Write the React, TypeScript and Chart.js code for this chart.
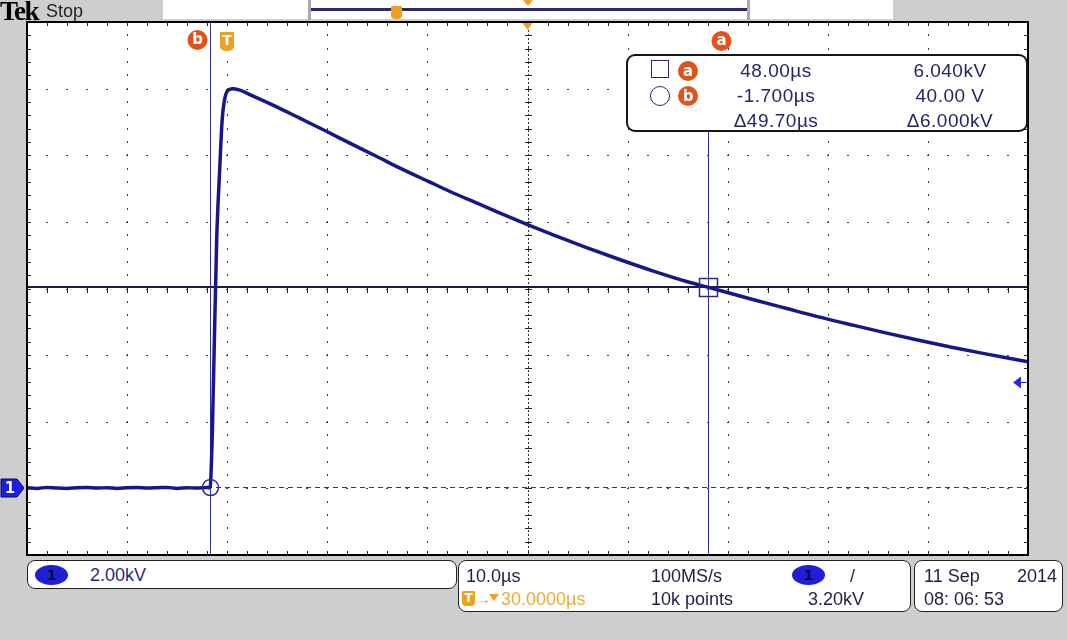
import React, { useEffect, useRef } from 'react';
import { Chart, registerables } from 'chart.js';

Chart.register(...registerables);

// ---- Data ----
const timeUs: number[] = [
  -20, -19, -18, -17, -16, -15, -14, -13, -12, -11, -10, -9, -8, -7, -6, -5, -4, -3, -2, -1.8,
  -1.7, -1.5, -1.3, -1.05, -0.75, -0.5, -0.2, 0.2, 0.6, 1.2,
  2.2, 4.9, 7.2, 9.9, 12.2, 14.9, 17.2, 20.2, 22.2, 25.2, 27.2, 30.0, 32.5, 35.9, 39.2, 42.5, 45.9, 48.0, 52.5, 55.9,
  59.2, 62.5, 65.9, 69.2, 72.5, 75.9, 80.0,
];
const voltageKV: number[] = [
  0.02, 0.0, 0.03, 0.01, 0.0, 0.02, 0.03, 0.01, 0.02, 0.0, 0.02, 0.03, 0.01, 0.02, 0.03, 0.0, 0.02, 0.01, 0.03, 0.02,
  0.04, 1.5, 4.2, 7.47, 9.57, 11.07, 11.76, 11.97, 12.0, 11.96,
  11.83, 11.46, 11.12, 10.72, 10.37, 9.97, 9.62, 9.2, 8.92, 8.53, 8.27, 7.92, 7.62, 7.23, 6.87, 6.53, 6.21, 6.04, 5.67, 5.4,
  5.14, 4.9, 4.66, 4.44, 4.23, 4.03, 3.8,
];

const X_MIN = -20, X_MAX = 80, X_DIV = 10;
const Y_MIN = -2, Y_MAX = 14, Y_DIV = 2;
const H_POS_US = 30; // screen centre (horizontal delay)
const TRIG_T_US = 0;
const TRIG_LEVEL_KV = 3.2;
const CUR_A_T = 48.0, CUR_A_V = 6.04;
const CUR_B_T = -1.7, CUR_B_V = 0.04;

const readoutTimes = ['48.00µs', '-1.700µs', 'Δ49.70µs'];
const readoutVolts = ['6.040kV', '40.00 V', 'Δ6.000kV'];
const statusRow1 = ['10.0µs', '100MS/s'];
const statusRow2 = ['30.0000µs', '10k points', '3.20kV'];
const chScale = '2.00kV';
const dateText = ['11 Sep', '2014', '08: 06: 53'];

const GRAY = '#cecece';
const TRACE = '#17178a';
const ORANGE_RED = '#e4521b';
const ORANGE = '#f0a01e';
const NAVY_TXT = '#24246a';
const READOUT_BOTTOM = 131;

function badge(ctx: CanvasRenderingContext2D, cx: number, cy: number, letter: string) {
  ctx.beginPath();
  ctx.arc(cx, cy, 10, 0, Math.PI * 2);
  ctx.fillStyle = ORANGE_RED;
  ctx.fill();
  ctx.fillStyle = '#fff';
  ctx.font = 'bold 15px "DejaVu Sans", sans-serif';
  ctx.textAlign = 'center';
  ctx.textBaseline = 'middle';
  ctx.fillText(letter, cx, cy + 0.5);
}

function shieldT(ctx: CanvasRenderingContext2D, cx: number, cy: number) {
  ctx.beginPath();
  ctx.moveTo(cx - 7, cy - 9);
  ctx.lineTo(cx + 7, cy - 9);
  ctx.lineTo(cx + 7, cy + 5);
  ctx.quadraticCurveTo(cx + 7, cy + 10, cx, cy + 10);
  ctx.quadraticCurveTo(cx - 7, cy + 10, cx - 7, cy + 5);
  ctx.closePath();
  ctx.fillStyle = ORANGE;
  ctx.fill();
  ctx.fillStyle = '#fff';
  ctx.font = 'bold 14px "DejaVu Sans", sans-serif';
  ctx.textAlign = 'center';
  ctx.textBaseline = 'middle';
  ctx.fillText('T', cx, cy);
}

const tekPlugin = {
  id: 'tek',
  beforeDatasetsDraw(chart: any) {
    const { ctx, chartArea: a } = chart;
    const xs = chart.scales.x, ys = chart.scales.y;
    ctx.save();
    ctx.fillStyle = '#ffffff';
    ctx.fillRect(a.left, a.top, a.right - a.left, a.bottom - a.top);

    const nX = Math.round((X_MAX - X_MIN) / X_DIV);
    const nY = Math.round((Y_MAX - Y_MIN) / Y_DIV);
    ctx.fillStyle = '#3a3a3a';
    // vertical dotted grid lines
    for (let i = 1; i < nX; i++) {
      const px = Math.round(xs.getPixelForValue(X_MIN + i * X_DIV));
      for (let j = 0; j <= nY * 5; j++) {
        const py = Math.round(ys.getPixelForValue(Y_MIN + (j * Y_DIV) / 5));
        ctx.fillRect(px, py - 1, 1, 2);
      }
    }
    // horizontal dotted grid lines
    for (let k = 1; k < nY; k++) {
      const py = Math.round(ys.getPixelForValue(Y_MIN + k * Y_DIV));
      for (let m = 0; m <= nX * 5; m++) {
        const px = Math.round(xs.getPixelForValue(X_MIN + (m * X_DIV) / 5));
        ctx.fillRect(px - 1, py, 2, 1);
      }
    }
    // centre graticule with ticks
    const cx = Math.round(xs.getPixelForValue(X_MIN + (nX / 2) * X_DIV));
    const cy = Math.round(ys.getPixelForValue(Y_MIN + (nY / 2) * Y_DIV));
    ctx.strokeStyle = '#333';
    ctx.lineWidth = 1;
    ctx.setLineDash([2, 2]);
    ctx.beginPath();
    ctx.moveTo(cx + 0.5, a.top);
    ctx.lineTo(cx + 0.5, a.bottom);
    ctx.stroke();
    ctx.setLineDash([]);
    ctx.fillStyle = '#222';
    for (let j = 0; j <= nY * 5; j++) {
      const py = Math.round(ys.getPixelForValue(Y_MIN + (j * Y_DIV) / 5));
      ctx.fillRect(cx - 3, py, 7, 1);
      ctx.fillRect(a.left, py, 4, 1);
      ctx.fillRect(a.right - 4, py, 4, 1);
    }
    for (let m = 0; m <= nX * 5; m++) {
      const px = Math.round(xs.getPixelForValue(X_MIN + (m * X_DIV) / 5));
      ctx.fillRect(px, cy - 3, 1, 7);
      ctx.fillRect(px, a.top, 1, 4);
      ctx.fillRect(px, a.bottom - 4, 1, 4);
    }

    // cursors
    const ax = Math.round(xs.getPixelForValue(CUR_A_T)) + 0.5;
    const bx = Math.round(xs.getPixelForValue(CUR_B_T)) + 0.5;
    const ay = ys.getPixelForValue(CUR_A_V);
    const by = Math.round(ys.getPixelForValue(CUR_B_V)) + 0.5;
    ctx.strokeStyle = '#2e2ea8';
    ctx.lineWidth = 1;
    ctx.beginPath();
    ctx.moveTo(bx, a.top);
    ctx.lineTo(bx, a.bottom);
    ctx.moveTo(ax, READOUT_BOTTOM);
    ctx.lineTo(ax, a.bottom);
    ctx.stroke();
    ctx.setLineDash([5, 4]);
    ctx.strokeStyle = '#3030a0';
    ctx.beginPath();
    ctx.moveTo(a.left, by);
    ctx.lineTo(a.right, by);
    ctx.stroke();
    ctx.setLineDash([]);
    ctx.strokeStyle = '#1a1a48';
    ctx.lineWidth = 2;
    ctx.beginPath();
    ctx.moveTo(a.left, Math.round(ay));
    ctx.lineTo(a.right, Math.round(ay));
    ctx.stroke();
    ctx.restore();
  },
  afterDatasetsDraw(chart: any) {
    const { ctx, chartArea: a } = chart;
    const xs = chart.scales.x, ys = chart.scales.y;
    ctx.save();
    const ax = Math.round(xs.getPixelForValue(CUR_A_T)) + 0.5;
    const ay = Math.round(ys.getPixelForValue(CUR_A_V)) + 0.5;
    const bx = Math.round(xs.getPixelForValue(CUR_B_T)) + 0.5;
    const by = Math.round(ys.getPixelForValue(CUR_B_V)) + 0.5;
    ctx.strokeStyle = '#2a2a80';
    ctx.lineWidth = 1.5;
    ctx.strokeRect(ax - 9, ay - 9, 18, 18);
    ctx.beginPath();
    ctx.arc(bx, by, 8, 0, Math.PI * 2);
    ctx.stroke();

    // border
    ctx.strokeStyle = '#000';
    ctx.lineWidth = 2;
    ctx.strokeRect(a.left, a.top, a.right - a.left, a.bottom - a.top);

    // labels above the plot
    badge(ctx, ax + 13, a.top + 19, 'a');
    badge(ctx, bx - 13, a.top + 18, 'b');
    shieldT(ctx, Math.round(xs.getPixelForValue(TRIG_T_US)), a.top + 19);
    // horizontal position marker
    const hx = xs.getPixelForValue(H_POS_US);
    ctx.fillStyle = ORANGE;
    ctx.beginPath();
    ctx.moveTo(hx - 5, a.top + 1);
    ctx.lineTo(hx + 5, a.top + 1);
    ctx.lineTo(hx, a.top + 8);
    ctx.closePath();
    ctx.fill();

    // channel 1 ground marker
    const gy = Math.round(ys.getPixelForValue(0));
    ctx.beginPath();
    ctx.moveTo(1, gy - 9);
    ctx.lineTo(17, gy - 9);
    ctx.lineTo(24, gy);
    ctx.lineTo(17, gy + 9);
    ctx.lineTo(1, gy + 9);
    ctx.closePath();
    ctx.fillStyle = '#1e1ee0';
    ctx.fill();
    ctx.strokeStyle = '#0a0a50';
    ctx.lineWidth = 1;
    ctx.stroke();
    ctx.fillStyle = '#fff';
    ctx.font = 'bold 15px "DejaVu Sans", sans-serif';
    ctx.textAlign = 'center';
    ctx.textBaseline = 'middle';
    ctx.fillText('1', 10, gy + 1);

    // trigger level arrow
    const ty = Math.round(ys.getPixelForValue(TRIG_LEVEL_KV)) + 0.5;
    const x0 = a.right - 15;
    ctx.fillStyle = '#2a2ae6';
    ctx.beginPath();
    ctx.moveTo(x0, ty);
    ctx.lineTo(x0 + 8, ty - 6);
    ctx.lineTo(x0 + 8, ty + 6);
    ctx.closePath();
    ctx.fill();
    ctx.strokeStyle = '#2a2ae6';
    ctx.beginPath();
    ctx.moveTo(x0 + 8, ty);
    ctx.lineTo(a.right, ty);
    ctx.stroke();
    ctx.restore();
  },
};

const SANS = '"Liberation Sans", Arial, sans-serif';

function Txt(props: { x: number; base: number; size?: number; color?: string; align?: 'left' | 'center' | 'right'; family?: string; weight?: string | number; spacing?: number; children: React.ReactNode }) {
  const size = props.size ?? 18;
  const align = props.align ?? 'left';
  const w = 300;
  const left = align === 'left' ? props.x : align === 'center' ? props.x - w / 2 : props.x - w;
  return (
    <div
      style={{
        position: 'absolute',
        left,
        top: props.base - size * 0.85,
        width: w,
        height: size,
        lineHeight: `${size}px`,
        fontSize: size,
        fontFamily: props.family ?? SANS,
        fontWeight: props.weight ?? 'normal',
        color: props.color ?? NAVY_TXT,
        textAlign: align,
        whiteSpace: 'nowrap',
        letterSpacing: props.spacing ?? 0,
      }}
    >
      {props.children}
    </div>
  );
}

function Badge({ cx, cy, letter }: { cx: number; cy: number; letter: string }) {
  return (
    <div
      style={{
        position: 'absolute',
        left: cx - 10,
        top: cy - 10,
        width: 20,
        height: 20,
        borderRadius: '50%',
        background: ORANGE_RED,
        color: '#fff',
        fontFamily: '"DejaVu Sans", sans-serif',
        fontWeight: 'bold',
        fontSize: 15,
        lineHeight: '20px',
        textAlign: 'center',
      }}
    >
      {letter}
    </div>
  );
}

function BlueOne({ x, y }: { x: number; y: number }) {
  return (
    <div
      style={{
        position: 'absolute',
        left: x,
        top: y,
        width: 33,
        height: 20,
        borderRadius: '50%',
        background: '#1f1fd6',
        color: '#0a0a40',
        fontFamily: '"DejaVu Sans", sans-serif',
        fontWeight: 'bold',
        fontSize: 14,
        lineHeight: '20px',
        textAlign: 'center',
      }}
    >
      1
    </div>
  );
}

const boxStyle = (left: number, top: number, width: number, height: number): React.CSSProperties => ({
  position: 'absolute',
  left,
  top,
  width,
  height,
  boxSizing: 'border-box',
  border: '1.5px solid #222',
  borderRadius: 8,
  background: '#fff',
});

export default function App() {
  const ref = useRef<HTMLCanvasElement>(null);
  useEffect(() => {
    document.body.style.margin = '0';
    const chart = new Chart(ref.current as HTMLCanvasElement, {
      type: 'line',
      data: {
        datasets: [
          {
            data: timeUs.map((t, i) => ({ x: t, y: voltageKV[i] })),
            borderColor: TRACE,
            borderWidth: 3.5,
            pointRadius: 0,
            tension: 0.3,
            cubicInterpolationMode: 'monotone',
            fill: false,
          },
        ],
      },
      options: {
        responsive: false,
        animation: false,
        devicePixelRatio: 1,
        layout: { padding: { left: 27, top: 22, right: 39, bottom: 85 } },
        plugins: { legend: { display: false }, tooltip: { enabled: false } },
        scales: {
          x: { type: 'linear', min: X_MIN, max: X_MAX, display: false },
          y: { type: 'linear', min: Y_MIN, max: Y_MAX, display: false },
        },
      },
      plugins: [tekPlugin],
    } as any);
    return () => chart.destroy();
  }, []);

  return (
    <div style={{ position: 'fixed', left: 0, top: 0, width: 1067, height: 640, background: GRAY, overflow: 'hidden', fontFamily: SANS }}>
      <canvas ref={ref} width={1067} height={640} style={{ position: 'absolute', left: 0, top: 0 }} />

      {/* top bar */}
      <Txt x={0} base={21} size={27} color="#000" family='"Liberation Serif", serif' weight="bold" spacing={-1.5}>Tek</Txt>
      <Txt x={46} base={17} size={18} color="#222">Stop</Txt>
      <div style={{ position: 'absolute', left: 163, top: 0, width: 730, height: 19, background: '#fff' }} />
      <div style={{ position: 'absolute', left: 308, top: 0, width: 3, height: 20, background: '#a8a8b8' }} />
      <div style={{ position: 'absolute', left: 747, top: 0, width: 3, height: 20, background: '#a8a8b8' }} />
      <div style={{ position: 'absolute', left: 311, top: 8, width: 436, height: 3, background: '#2b2b6b' }} />
      <div style={{ position: 'absolute', left: 391, top: 6, width: 11, height: 13, background: ORANGE, borderRadius: '1px 1px 4px 4px' }} />
      <div style={{ position: 'absolute', left: 523, top: 0, width: 0, height: 0, borderLeft: '5px solid transparent', borderRight: '5px solid transparent', borderTop: `6px solid ${ORANGE}` }} />

      {/* cursor readout */}
      <div style={{ ...boxStyle(626, 54, 402, 78), border: '2px solid #151515', borderRadius: 9 }} />
      <div style={{ position: 'absolute', left: 651, top: 60, width: 18, height: 18, boxSizing: 'border-box', border: '1.5px solid #2a2a80' }} />
      <div style={{ position: 'absolute', left: 650, top: 86, width: 20, height: 20, boxSizing: 'border-box', border: '1.5px solid #2a2a80', borderRadius: '50%' }} />
      <Badge cx={688} cy={71} letter="a" />
      <Badge cx={688} cy={96} letter="b" />
      {readoutTimes.map((s, i) => (
        <Txt key={'t' + i} x={776} base={77 + i * 25} size={19} align="center" spacing={0.5}>{s}</Txt>
      ))}
      {readoutVolts.map((s, i) => (
        <Txt key={'v' + i} x={950} base={77 + i * 25} size={19} align="center" spacing={0.5}>{s}</Txt>
      ))}

      {/* bottom status */}
      <div style={boxStyle(27, 560, 430, 29)} />
      <BlueOne x={35} y={565} />
      <Txt x={90} base={581} size={18} color="#2a2a7a">{chScale}</Txt>

      <div style={boxStyle(458, 560, 453, 52)} />
      <Txt x={466} base={582} size={18} color="#1e1e46">{statusRow1[0]}</Txt>
      <Txt x={651} base={582} size={18} color="#1e1e46">{statusRow1[1]}</Txt>
      <BlueOne x={792} y={565} />
      <Txt x={850} base={582} size={18} color="#1e1e46">/</Txt>
      <div style={{ position: 'absolute', left: 462, top: 591, width: 13, height: 15, background: ORANGE, borderRadius: '1px 1px 4px 4px', color: '#fff', fontSize: 12, fontWeight: 'bold', lineHeight: '15px', textAlign: 'center', fontFamily: '"DejaVu Sans", sans-serif' }}>T</div>
      <Txt x={476} base={604} size={15} color={ORANGE} weight="bold">→</Txt>
      <div style={{ position: 'absolute', left: 489, top: 594, width: 0, height: 0, borderLeft: '5px solid transparent', borderRight: '5px solid transparent', borderTop: `7px solid ${ORANGE}` }} />
      <Txt x={501} base={605} size={18} color="#f0aa30">{statusRow2[0]}</Txt>
      <Txt x={651} base={605} size={18} color="#1e1e46">{statusRow2[1]}</Txt>
      <Txt x={808} base={605} size={18} color="#1e1e46">{statusRow2[2]}</Txt>

      <div style={boxStyle(914, 560, 149, 52)} />
      <Txt x={924} base={582} size={18} color="#1e1e46">{dateText[0]}</Txt>
      <Txt x={1057} base={582} size={18} color="#1e1e46" align="right">{dateText[1]}</Txt>
      <Txt x={924} base={605} size={18} color="#1e1e46">{dateText[2]}</Txt>
    </div>
  );
}
